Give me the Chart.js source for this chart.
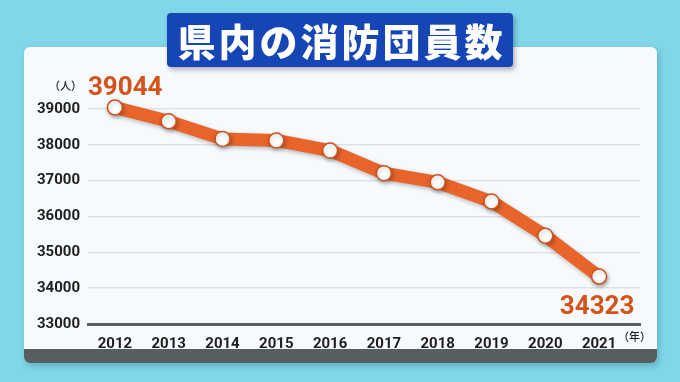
<!DOCTYPE html>
<html lang="ja">
<head>
<meta charset="utf-8">
<script src="https://cdn.jsdelivr.net/npm/chart.js@4.4.1/dist/chart.umd.min.js"></script>
<style>
  html, body { margin: 0; padding: 0; }
  body { width: 680px; height: 382px; background: #80d7e9; position: relative; overflow: hidden; }
  #card { position: absolute; left: 24px; top: 47px; width: 633px; height: 316px; background: #f7fafc; border-radius: 6px; overflow: hidden; box-shadow: 2px 3px 6px rgba(0,60,90,0.25); }
  #band { position: absolute; left: 0; bottom: 0; width: 100%; height: 14px; background: #565e5f; }
  #title { position: absolute; left: 167px; top: 13px; width: 346px; height: 54px; background: #1646b6; border-radius: 4px; box-shadow: 2px 3px 5px rgba(0,0,40,0.3); color: #fff; font-family: "Noto Sans CJK JP", sans-serif; font-weight: 900; font-size: 38px; letter-spacing: 3px; text-indent: 3px; line-height: 54px; text-align: center; white-space: nowrap; z-index: 3; }
  #c { position: absolute; left: 0; top: 0; z-index: 2; }
</style>
</head>
<body>
<div id="card"><div id="band"></div></div>
<div id="title">県内の消防団員数</div>
<canvas id="c" width="680" height="382"></canvas>
<script>
const years = [2012, 2013, 2014, 2015, 2016, 2017, 2018, 2019, 2020, 2021];
const members = [39044, 38656, 38166, 38122, 37839, 37210, 36953, 36417, 35463, 34323];
const yTicks = [33000, 34000, 35000, 36000, 37000, 38000, 39000];
const yUnit = "（人）";
const xUnit = "（年）";

const labelPlugin = {
  id: 'labels',
  beforeDatasetsDraw(chart) {
    const ctx = chart.ctx;
    ctx.save();
    ctx.shadowColor = 'rgba(0,0,0,0.25)';
    ctx.shadowBlur = 4;
    ctx.shadowOffsetX = 1;
    ctx.shadowOffsetY = 2;
  },
  afterDatasetsDraw(chart) {
    const ctx = chart.ctx;
    ctx.restore();
    const meta = chart.getDatasetMeta(0);
    const first = meta.data[0];
    const last = meta.data[meta.data.length - 1];
    ctx.save();
    ctx.fillStyle = '#d4531b';
    ctx.font = 'bold 26px Roboto, "Liberation Sans", sans-serif';
    ctx.textBaseline = 'alphabetic';
    ctx.textAlign = 'left';
    ctx.fillText(String(members[0]), first.x - 27, first.y - 12);
    ctx.textAlign = 'center';
    ctx.fillText(String(members[members.length - 1]), last.x - 2, last.y + 37);
    ctx.fillStyle = '#222';
    ctx.font = '500 11px "Noto Sans CJK JP", sans-serif';
    ctx.textBaseline = 'middle';
    ctx.textAlign = 'right';
    ctx.fillText(yUnit, chart.chartArea.left - 6, 86);
    ctx.textAlign = 'left';
    ctx.fillText(xUnit, last.x + 19, 337);
    ctx.restore();
  }
};

new Chart(document.getElementById('c'), {
  type: 'line',
  data: {
    datasets: [{
      data: years.map((y, i) => ({ x: y, y: members[i] })),
      borderColor: '#e8642a',
      borderWidth: 13,
      borderJoinStyle: 'round',
      borderCapStyle: 'round',
      tension: 0,
      clip: false,
      pointRadius: 7.5,
      pointBackgroundColor: '#ffffff',
      pointBorderColor: '#cf521c',
      pointBorderWidth: 1.5,
      pointHoverRadius: 7.5
    }]
  },
  options: {
    responsive: false,
    devicePixelRatio: 1,
    animation: false,
    events: [],
    layout: { padding: { top: 109, right: 40, left: 0, bottom: 0 } },
    plugins: { legend: { display: false }, tooltip: { enabled: false } },
    scales: {
      x: {
        type: 'linear',
        min: 2011.5,
        max: 2021.76,
        afterBuildTicks(scale) { scale.ticks = years.map(v => ({ value: v })); },
        afterFit(scale) { scale.height = 58; },
        grid: { display: false },
        border: { display: true, color: '#5a5f60', width: 3 },
        ticks: {
          padding: 3,
          color: '#1e1e1e',
          font: { family: 'Roboto, "Liberation Sans", sans-serif', size: 15, weight: 'bold' },
          callback: v => String(v),
          maxRotation: 0,
          autoSkip: false
        }
      },
      y: {
        min: 33000,
        max: 39000,
        afterBuildTicks(scale) { scale.ticks = yTicks.map(v => ({ value: v })); },
        afterFit(scale) { scale.width = 88; },
        grid: { color: '#dde3e7', lineWidth: 1.5, drawTicks: false },
        border: { display: false },
        ticks: {
          padding: 8,
          color: '#1e1e1e',
          font: { family: 'Roboto, "Liberation Sans", sans-serif', size: 15, weight: 'bold' },
          callback: v => String(v)
        }
      }
    }
  },
  plugins: [labelPlugin]
});
</script>
</body>
</html>
